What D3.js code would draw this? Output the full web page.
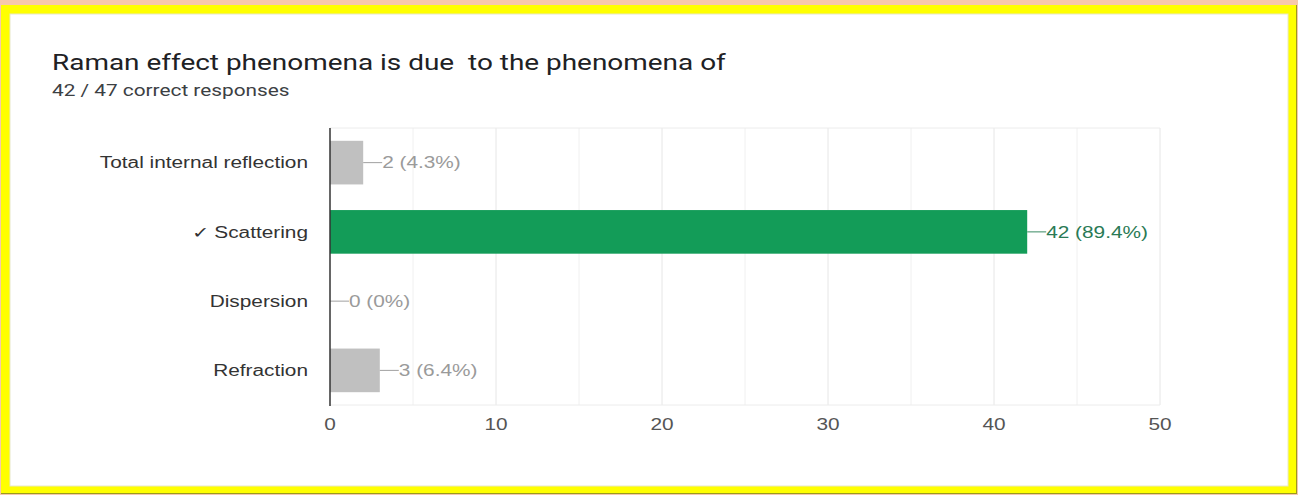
<!DOCTYPE html>
<html>
<head>
<meta charset="utf-8">
<script src="https://cdn.jsdelivr.net/npm/d3@7"></script>
<style>
  body { margin: 0; background: #fff; }
  svg { display: block; }
</style>
</head>
<body>
<svg width="1298" height="495"></svg>
<script>
// Data
const categories = ["Total internal reflection", "✓ Scattering", "Dispersion", "Refraction"]
const counts = [2, 42, 0, 3]
const percents = ["4.3%", "89.4%", "0%", "6.4%"]
const correct = [false, true, false, false]
const xTicks = [0, 10, 20, 30, 40, 50]
const gridTicks = [5, 10, 15, 20, 25, 30, 35, 40, 45, 50]

const svg = d3.select("svg")
const SX = 1.3 // the screenshot is stretched sideways

// stretch text horizontally to mimic the screenshot
function stretch(sel, k) {
    sel.each(function () {
        const w = this.getComputedTextLength()
        d3.select(this).attr("textLength", w * k).attr("lengthAdjust", "spacingAndGlyphs")
    })
}

// Frame around the card
svg.append("rect").attr("x", 0).attr("y", 0).attr("width", 1298).attr("height", 495).attr("fill", "#f7c8ab")
svg.append("rect").attr("x", 1).attr("y", 5).attr("width", 1296).attr("height", 489).attr("fill", "#9a9a20")
svg.append("rect").attr("x", 1).attr("y", 5).attr("width", 1295).attr("height", 488).attr("fill", "#ffff00")
svg.append("rect").attr("x", 10).attr("y", 14).attr("width", 1278).attr("height", 472)
    .attr("fill", "#fff").style("stroke", "#e8e8c8").style("stroke-width", 1)

// Title
svg.append("text").attr("x", 52).attr("y", 70)
    .style("font-family", "Roboto, Arial, sans-serif").style("font-size", "22px").attr("fill", "#202124")
    .style("white-space", "pre")
    .text("Raman effect phenomena is due  to the phenomena of")
    .call(stretch, 1.27)

svg.append("text").attr("x", 52).attr("y", 96)
    .style("font-family", "Roboto, Arial, sans-serif").style("font-size", "16px").attr("fill", "#3c4043")
    .text("42 / 47 correct responses")
    .call(stretch, 1.3)

// Scales
const x = d3.scaleLinear().domain([0, 50]).range([330, 1160])
const y = d3.scaleBand().domain(categories).range([128, 405]).paddingInner(0.37).paddingOuter(0.185)

const chart = svg.append("g").style("font-family", "'Liberation Sans', Arial, sans-serif")

// Grid
chart.selectAll(".grid")
    .data(gridTicks)
    .join("line")
    .attr("x1", d => x(d)).attr("x2", d => x(d))
    .attr("y1", 128).attr("y2", 405)
    .style("stroke", d => d % 10 === 0 ? "#e6e6e6" : "#f0f0f0")
chart.append("line").attr("x1", x(0)).attr("x2", x(50)).attr("y1", 128).attr("y2", 128).style("stroke", "#ececec")
chart.append("line").attr("x1", x(0)).attr("x2", x(50)).attr("y1", 405).attr("y2", 405).style("stroke", "#ececec")

// Bars
chart.selectAll(".bar")
    .data(categories)
    .join("rect")
    .attr("x", x(0))
    .attr("y", d => y(d))
    .attr("width", (d, i) => x(counts[i]) - x(0))
    .attr("height", y.bandwidth())
    .attr("fill", (d, i) => correct[i] ? "#139c58" : "#c0c0c0")

// Value labels with little leader lines
chart.selectAll(".leader")
    .data(categories)
    .join("line")
    .attr("x1", (d, i) => x(counts[i]))
    .attr("x2", (d, i) => x(counts[i]) + 19)
    .attr("y1", d => y(d) + y.bandwidth() / 2)
    .attr("y2", d => y(d) + y.bandwidth() / 2)
    .style("stroke", (d, i) => correct[i] ? "#3a8a62" : "#a0a0a0")

chart.selectAll(".val")
    .data(categories)
    .join("text")
    .attr("x", (d, i) => x(counts[i]) + 19)
    .attr("y", d => y(d) + y.bandwidth() / 2)
    .attr("dy", "0.36em")
    .style("font-size", "16px")
    .attr("fill", (d, i) => correct[i] ? "#2a7a55" : "#9a9a9a")
    .text((d, i) => counts[i] + " (" + percents[i] + ")")
    .call(stretch, SX)

// Category labels
chart.selectAll(".cat")
    .data(categories)
    .join("text")
    .attr("x", 308)
    .attr("y", d => y(d) + y.bandwidth() / 2)
    .attr("dy", "0.36em")
    .attr("text-anchor", "end")
    .style("font-size", "16px")
    .attr("fill", "#333")
    .text(d => d)
    .call(stretch, SX)

// Y axis line
chart.append("line").attr("x1", x(0)).attr("x2", x(0)).attr("y1", 128).attr("y2", 406)
    .style("stroke", "#333").style("stroke-width", 1.5)

// X tick labels
chart.selectAll(".tick")
    .data(xTicks)
    .join("text")
    .attr("x", d => x(d))
    .attr("y", 430)
    .attr("text-anchor", "middle")
    .style("font-size", "16px")
    .attr("fill", "#555")
    .text(d => d)
    .call(stretch, SX)
</script>
</body>
</html>
